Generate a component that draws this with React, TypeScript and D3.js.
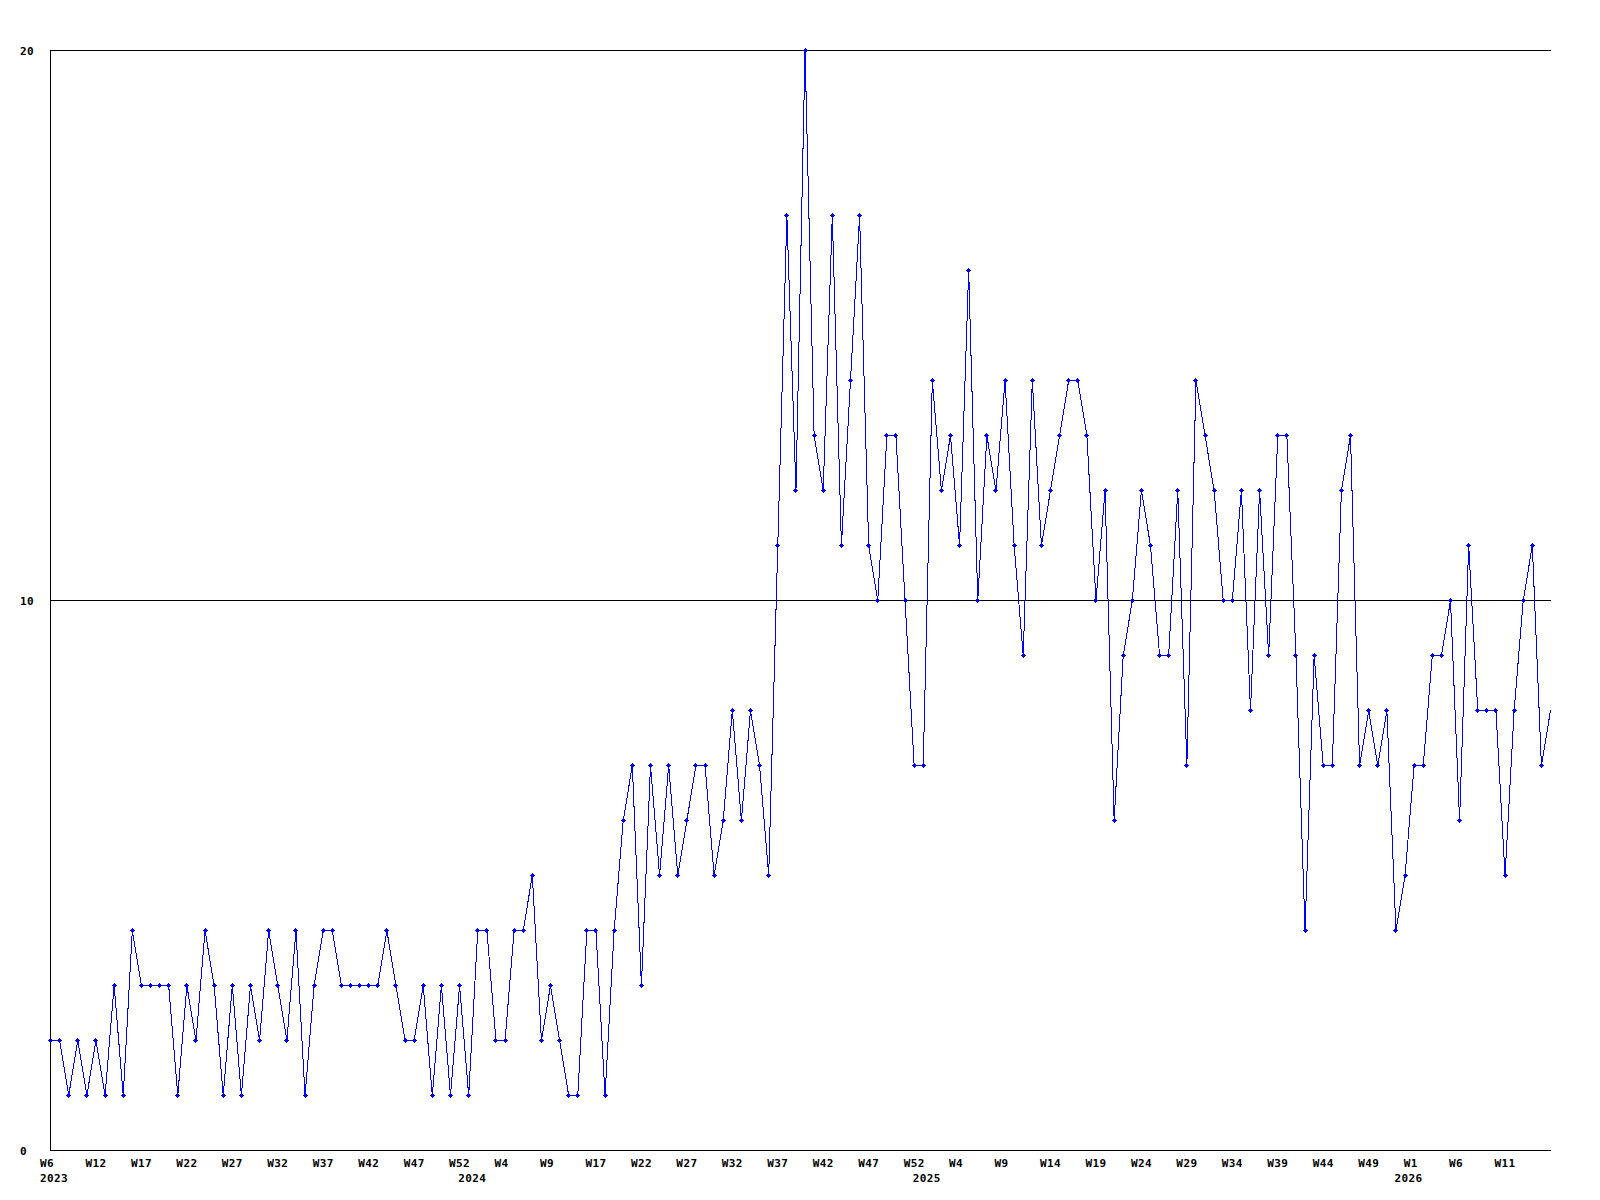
import React from "react";
import * as d3 from "d3";

const values: number[] = [
  2, 2, 1, 2, 1, 2, 1, 3, 1, 4,
  3, 3, 3, 3, 1, 3, 2, 4, 3, 1,
  3, 1, 3, 2, 4, 3, 2, 4, 1, 3,
  4, 4, 3, 3, 3, 3, 3, 4, 3, 2,
  2, 3, 1, 3, 1, 3, 1, 4, 4, 2,
  2, 4, 4, 5, 2, 3, 2, 1, 1, 4,
  4, 1, 4, 6, 7, 3, 7, 5, 7, 5,
  6, 7, 7, 5, 6, 8, 6, 8, 7, 5,
  11, 17, 12, 20, 13, 12, 17, 11, 14, 17,
  11, 10, 13, 13, 10, 7, 7, 14, 12, 13,
  11, 16, 10, 13, 12, 14, 11, 9, 14, 11,
  12, 13, 14, 14, 13, 10, 12, 6, 9, 10,
  12, 11, 9, 9, 12, 7, 14, 13, 12, 10,
  10, 12, 8, 12, 9, 13, 13, 9, 4, 9,
  7, 7, 12, 13, 7, 8, 7, 8, 4, 5,
  7, 7, 9, 9, 10, 6, 11, 8, 8, 8,
  5, 8, 10, 11, 7, 8,
];

const weekLabels: string[] = [
  "W6", "W12", "W17", "W22", "W27", "W32", "W37", "W42", "W47", "W52",
  "W4", "W9", "W17", "W22", "W27", "W32", "W37", "W42", "W47", "W52",
  "W4", "W9", "W14", "W19", "W24", "W29", "W34", "W39", "W44", "W49",
  "W1", "W6", "W11",
];
const weekLabelStep = 5;

const yearLabels: string[] = ["2023", "2024", "2025", "2026"];
const yearIndices: number[] = [0, 46, 96, 149];

const yTicks: number[] = [0, 10, 20];

const FONT = "'DejaVu Sans Mono', monospace";

export default function App() {
  const width = 1600;
  const height = 1200;
  const x = d3.scaleLinear().domain([0, values.length - 1]).range([50.5, 1550.5]);
  const y = d3.scaleLinear().domain([0, 20]).range([1150.5, 50.5]);

  const line = d3
    .line<number>()
    .x((_, i) => x(i))
    .y((d) => y(d));

  const marker = (cx: number, cy: number) => {
    const px = Math.round(cx - 0.5);
    const py = Math.round(cy - 0.5);
    return `M${px - 2},${py}h5v1h-5z M${px},${py - 2}h1v5h-1z M${px - 1},${py - 1}h3v3h-3z`;
  };

  return (
    <div style={{ position: "absolute", left: 0, top: 0 }}>
      <svg width={width} height={height} style={{ display: "block", background: "#fff" }}>
        <rect x={0} y={0} width={width} height={height} fill="#fff" />
        {yTicks.map((t) => (
          <line
            key={"g" + t}
            x1={50}
            x2={1551}
            y1={y(t)}
            y2={y(t)}
            stroke="#000"
            strokeWidth={1}
            shapeRendering="crispEdges"
          />
        ))}
        <line x1={50.5} x2={50.5} y1={50} y2={1151} stroke="#000" strokeWidth={1} shapeRendering="crispEdges" />
        {yTicks.map((t) => (
          <text
            key={"yl" + t}
            x={20}
            y={y(t) + 4}
            fontFamily={FONT}
            fontWeight="bold"
            fontSize={11}
            letterSpacing={0.4}
            fill="#000"
          >
            {String(t)}
          </text>
        ))}
        {weekLabels.map((w, k) => (
          <text
            key={"xl" + k}
            x={x(k * weekLabelStep) - 10.5}
            y={1167}
            fontFamily={FONT}
            fontWeight="bold"
            fontSize={11}
            letterSpacing={0.4}
            fill="#000"
          >
            {w}
          </text>
        ))}
        {yearLabels.map((yr, k) => (
          <text
            key={"yr" + k}
            x={x(yearIndices[k]) - 10.5}
            y={1182}
            fontFamily={FONT}
            fontWeight="bold"
            fontSize={11}
            letterSpacing={0.4}
            fill="#000"
          >
            {yr}
          </text>
        ))}
        <path
          d={line(values) || ""}
          fill="none"
          stroke="#0000ff"
          strokeWidth={1}
          shapeRendering="crispEdges"
        />
        <path
          d={values
            .slice(0, values.length - 1)
            .map((v, i) => marker(x(i), y(v)))
            .join(" ")}
          fill="#0000ff"
          shapeRendering="crispEdges"
        />
      </svg>
    </div>
  );
}
